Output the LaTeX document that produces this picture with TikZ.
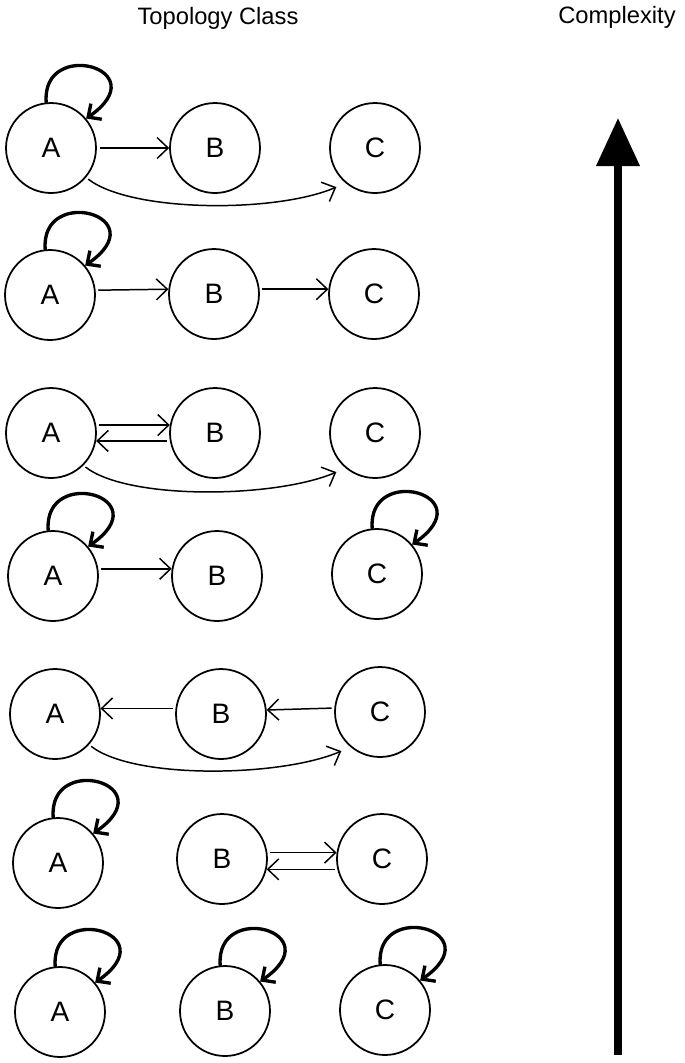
\documentclass[tikz,border=0pt]{standalone}
\usepackage{fontspec}
\setmainfont{Liberation Sans}
\usetikzlibrary{arrows.meta}

\tikzset{
  etat/.style={draw, circle, line width=1pt, minimum size=1.8cm, inner sep=0pt,
    font=\fontsize{16}{18}\selectfont},
  fl/.style={line width=0.85pt, shorten <=1.5pt,
    -{Straight Barb[length=2.2mm,width=4.2mm]}},
  flcourbe/.style={fl, shorten >=2mm},
  boucle/.style={line width=1.9pt, line cap=round,
    -{Straight Barb[length=2mm,width=3.8mm]}},
  titre/.style={font=\fontsize{13.5}{16}\selectfont}
}

\begin{document}
\begin{tikzpicture}[x=0.02cm, y=-0.02cm]
\useasboundingbox (0,0) rectangle (684,1063);

% Titres
\node[titre] (topo) at (218,18) {Topology Class};
\node[titre] (compl) at (617,17) {Complexity};

% Etats
\node[etat] (A1) at (51,148) {A};
\node[etat] (B1) at (215,148) {B};
\node[etat] (C1) at (375,148) {C};
\node[etat] (A2) at (50,295) {A};
\node[etat] (B2) at (214,294) {B};
\node[etat] (C2) at (374,294) {C};
\node[etat] (A3) at (51,433) {A};
\node[etat] (B3) at (215,433) {B};
\node[etat] (C3) at (375,433) {C};
\node[etat] (A4) at (53,576) {A};
\node[etat] (B4) at (217,576) {B};
\node[etat] (C4) at (377,574) {C};
\node[etat] (A5) at (55,714) {A};
\node[etat] (B5) at (221,714) {B};
\node[etat] (C5) at (380,712) {C};
\node[etat] (A6) at (58,863) {A};
\node[etat] (B6) at (222,859) {B};
\node[etat] (C6) at (382,859) {C};
\node[etat] (A7) at (60,1012) {A};
\node[etat] (B7) at (225,1011) {B};
\node[etat] (C7) at (385,1010) {C};

% Transitions
\draw[fl] (A1.east) -- (B1.west);
\draw[flcourbe] (A1.-40) .. controls +(45,35) and +(-70,30) .. (C1.-130);
\draw[fl] (A2.6) -- (B2.174);
\draw[fl] (B2.6) -- (C2.174);
\draw[fl] (A3.10) -- (B3.170);
\draw[fl] (B3.190) -- (A3.-10);
\draw[flcourbe] (A3.-45) .. controls +(45,35) and +(-70,30) .. (C3.-130);
\draw[fl] (A4.9) -- (B4.171);
\draw[fl] (B5.173) -- (A5.7);
\draw[fl] (C5.175) -- (B5.5);
\draw[flcourbe] (A5.-42) .. controls +(45,35) and +(-70,30) .. (C5.-130);
\draw[fl] (B6.8) -- (C6.172);
\draw[fl] (C6.-167) -- (B6.-13);

% Boucles
\foreach \n in {A1,A2,A4,C4,A6,A7,B7,C7}
  \draw[boucle] (\n.96) .. controls +(-5,-65) and +(72,-50) .. (\n.40);

% Axe de complexite
\coordinate (bas) at (618,1055);
\coordinate (haut) at (618,118);
\draw[line width=4pt, -{Triangle[length=0.96cm,width=0.84cm]}] (bas) -- (haut);
\end{tikzpicture}
\end{document}
